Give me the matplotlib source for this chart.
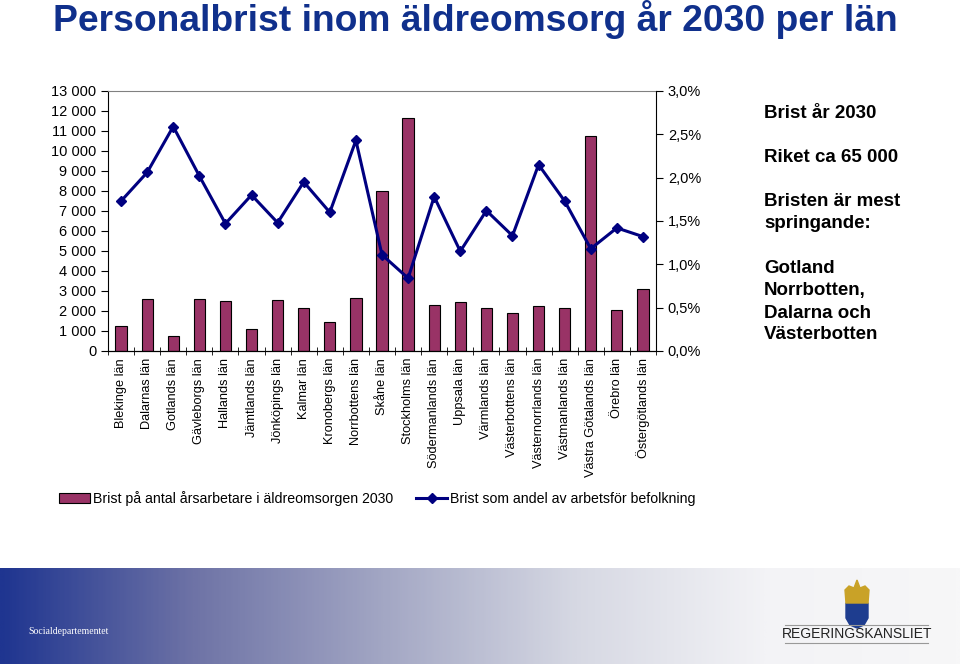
import numpy as np
import matplotlib.pyplot as plt
from matplotlib.ticker import FuncFormatter
from matplotlib.colors import LinearSegmentedColormap

plt.rcParams['font.family'] = ['Liberation Sans', 'DejaVu Sans']

#### Data

lan = ["Blekinge län", "Dalarnas län", "Gotlands län", "Gävleborgs län", "Hallands län",
       "Jämtlands län", "Jönköpings län", "Kalmar län", "Kronobergs län", "Norrbottens län",
       "Skåne län", "Stockholms län", "Södermanlands län", "Uppsala län", "Värmlands län",
       "Västerbottens län", "Västernorrlands län", "Västmanlands län", "Västra Götalands län",
       "Örebro län", "Östergötlands län"]
brist_antal = [1270, 2600, 730, 2600, 2500, 1120, 2550, 2150, 1430, 2650,
               8000, 11630, 2320, 2430, 2150, 1880, 2270, 2150, 10730, 2050, 3080]
brist_andel = [1.73, 2.06, 2.59, 2.02, 1.47, 1.80, 1.48, 1.95, 1.60, 2.43,
               1.11, 0.84, 1.78, 1.15, 1.62, 1.33, 2.15, 1.73, 1.18, 1.42, 1.32]

bar_col = "#993366"
line_col = "#000080"

fig = plt.figure(figsize=(9.6, 6.64), dpi=100)

#### Title
fig.text(0.495, 1 - 31/664, "Personalbrist inom äldreomsorg år 2030 per län", ha="center", va="baseline",
         fontsize=26.8, fontweight="bold", color="#10308C")

#### Chart
ax = fig.add_axes([108/960, 1-351/664, (656-108)/960, (351-91)/664])
x = np.arange(len(lan))
ax.bar(x, brist_antal, width=0.43, color=bar_col, edgecolor="black", linewidth=0.8,
       label="Brist på antal årsarbetare i äldreomsorgen 2030")
ax.set_xlim(-0.5, len(lan) - 0.5)
ax.set_ylim(0, 13000)
ax.set_yticks(range(0, 13001, 1000))
ax.yaxis.set_major_formatter(FuncFormatter(lambda v, p: f"{int(v):,}".replace(",", " ")))
ax.set_xticks(x)
ax.set_xticklabels(lan, rotation=90, fontsize=9.2, va="top")
ax.tick_params(axis="x", length=0, pad=5)
ax.set_xticks(np.arange(-0.5, len(lan), 1), minor=True)
ax.tick_params(axis="x", which="minor", length=6, direction="inout")
ax.tick_params(axis="y", labelsize=10.5, length=5, direction="out")
ax.spines["top"].set_color("#808080")
ax.spines["right"].set_visible(False)

ax2 = ax.twinx()
ax2.plot(x, np.array(brist_andel) / 100, color=line_col, linewidth=2.2, marker="D", markersize=5,
         label="Brist som andel av arbetsför befolkning")
ax2.set_ylim(0, 0.03)
ax2.set_yticks(np.arange(0, 0.0301, 0.005))
ax2.yaxis.set_major_formatter(FuncFormatter(lambda v, p: f"{v*100:.1f}%".replace(".", ",")))
ax2.tick_params(axis="y", labelsize=10.5, length=5, direction="out")
ax2.spines["top"].set_visible(False)
ax2.spines["left"].set_visible(False)

#### Legend
h1, l1 = ax.get_legend_handles_labels()
h2, l2 = ax2.get_legend_handles_labels()
fig.legend(h1 + h2, l1 + l2, loc="center", bbox_to_anchor=(0.393, 0.249), ncol=2, frameon=False,
           fontsize=10.2, handlelength=2.2, columnspacing=1.6, handletextpad=0.2)

#### Side text
side = [(113, "Brist år 2030"), (157, "Riket ca 65 000"), (202, "Bristen är mest"),
        (224, "springande:"), (269, "Gotland"), (291, "Norrbotten,"), (313, "Dalarna och"),
        (335, "Västerbotten")]
for sy, s in side:
    fig.text(764/960, 1 - sy/664, s, ha="left", va="center", fontsize=13.5, fontweight="bold")

#### Banner
bax = fig.add_axes([0, 0, 1, 96/664])
cmap = LinearSegmentedColormap.from_list("band", ["#1F3590", "#6E73A6", "#A3A7C4", "#D6D8E3", "#F3F3F6", "#F7F7F8"])
bax.imshow(np.linspace(0, 1, 400)[None, :], aspect="auto", cmap=cmap, extent=(0, 96, 0, 96))
bax.set_xlim(0, 96)
bax.set_ylim(0, 96)
bax.axis("off")
bax = fig.add_axes([0, 0, 1, 96/664])
bax.set_xlim(0, 960)
bax.set_ylim(664, 568)
bax.axis("off")
bax.text(28, 632, "Socialdepartementet", color="white", fontsize=7, family="Liberation Serif",
         va="center")
bax.text(857, 634, "REGERINGSKANSLIET", color="#222222", fontsize=10, va="center", ha="center")
bax.plot([785, 928], [625, 625], color="#999999", lw=0.8)
bax.plot([785, 928], [643, 643], color="#999999", lw=0.8)
shield = [(846, 603), (868, 603), (868, 618), (864, 625), (857, 628), (850, 625), (846, 618)]
bax.add_patch(plt.Polygon(shield, closed=True, color="#1E3D8F"))
crown = [(846, 603), (868, 603), (869, 590), (865, 586), (860, 588), (857, 580), (854, 588),
         (849, 586), (845, 590)]
bax.add_patch(plt.Polygon(crown, closed=True, color="#C9A227"))

fig.savefig("out.png", dpi=100)
